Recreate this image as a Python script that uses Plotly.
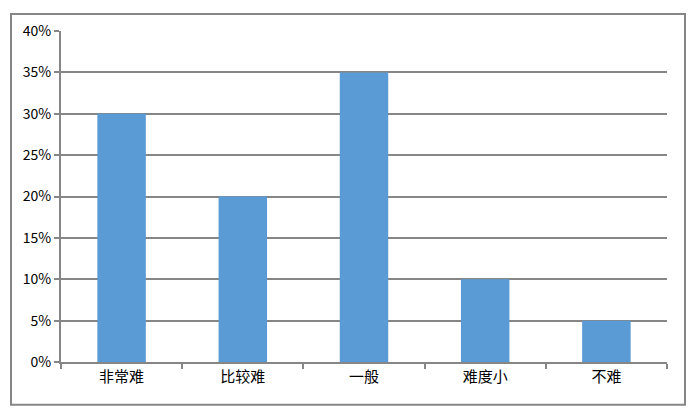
import plotly.graph_objects as go

categories = ["非常难", "比较难", "一般", "难度小", "不难"]
values = [0.30, 0.20, 0.35, 0.10, 0.05]
y_ticks = [0, 0.05, 0.10, 0.15, 0.20, 0.25, 0.30, 0.35, 0.40]

grey = "#868686"
font_name = "Noto Sans CJK SC"

fig = go.Figure()
fig.add_trace(go.Bar(x=categories, y=values, marker_color="#5B9BD5",
                     marker_line_width=0, width=0.4))

# page body has an 8px margin, so the figure is a bit smaller than the window
fig.update_layout(
    width=691, height=402,
    margin=dict(l=53, r=32, t=21, b=48),
    paper_bgcolor="white", plot_bgcolor="white",
    font=dict(family=font_name, size=14, color="black"),
    showlegend=False,
    bargap=0.6,
)
fig.update_xaxes(
    showline=True, linecolor=grey, linewidth=2,
    ticks="outside", tickson="boundaries", ticklen=5, tickcolor=grey, tickwidth=2,
    showgrid=False, tickfont=dict(family=font_name, size=15),
)
fig.update_yaxes(
    range=[0, 0.4], tickvals=y_ticks, tickformat=".0%",
    showline=True, linecolor=grey, linewidth=2,
    ticks="outside", ticklen=5, tickcolor=grey, tickwidth=2,
    showgrid=True, gridcolor=grey, gridwidth=1.5, zeroline=False,
    tickfont=dict(family=font_name, size=14),
)

# outer chart border
fig.add_shape(type="rect", xref="paper", yref="paper",
              x0=-0.0825, x1=1.0297, y0=-0.129, y1=1.051,
              line=dict(color=grey, width=2), fillcolor="rgba(0,0,0,0)")

fig.write_html("out.html")
